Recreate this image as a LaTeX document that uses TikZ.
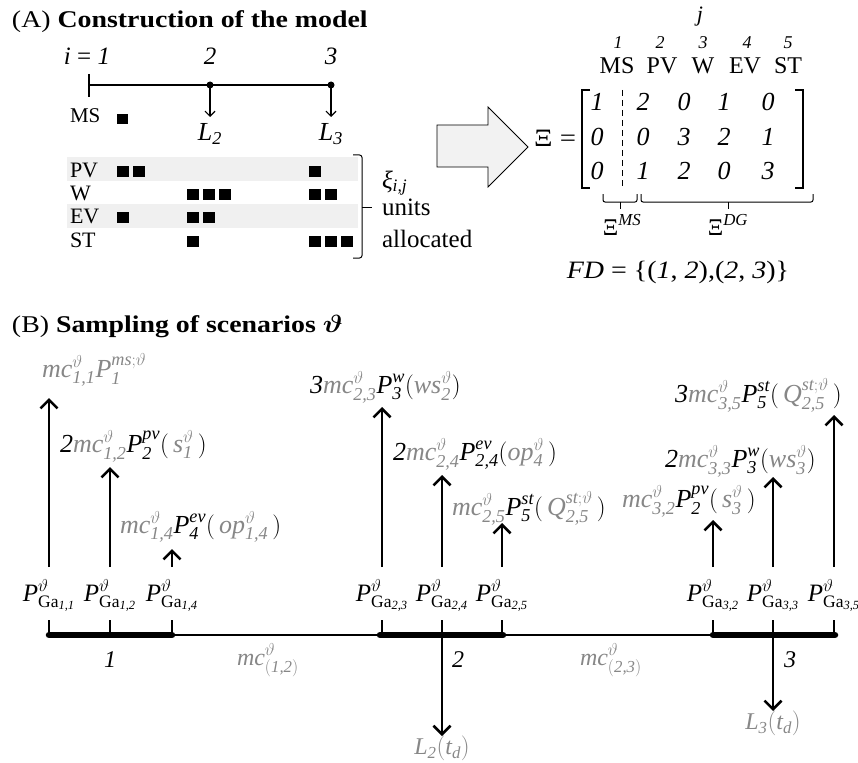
\documentclass[tikz,border=0pt]{standalone}
\usepackage{amsmath}
\usepackage{fontspec}
\setmainfont{Liberation Serif}
\usetikzlibrary{arrows.meta}
\definecolor{lg}{RGB}{135,135,135}
\definecolor{band}{RGB}{240,240,240}
\definecolor{arrfill}{RGB}{242,242,242}
\newcommand{\ti}[1]{\textit{#1}}
\newcommand{\gy}[1]{\textcolor{lg}{#1}}
\newcommand{\mcv}[1]{\gy{\ti{mc}^{\vartheta}_{\ti{#1}}}}
\newcommand{\pga}[1]{\ti{P}^{\vartheta}_{\mathrm{Ga}_{\ti{#1}}}}
\begin{document}
\begin{tikzpicture}[x=1pt,y=-1pt,
  every node/.style={inner sep=0pt,outer sep=0pt},
  tf/.style={font=\fontsize{22}{26}\selectfont},
  mf/.style={font=\fontsize{26}{30}\selectfont},
  gf/.style={font=\fontsize{25}{30}\selectfont},
  hf/.style={font=\fontsize{24}{28}\selectfont},
  thinarr/.style={line width=1.2pt,-{Straight Barb[length=5pt,width=10pt]}},
  bigarr/.style={line width=2.6pt,-{Straight Barb[length=8.5pt,width=17pt]}},
  tick/.style={line width=2.5pt}
]
\useasboundingbox (0,0) rectangle (858,762);

% ---------- (A) ----------
\node[hf,anchor=base west] (titleA) at (12,28) {\scalebox{1.16}[1]{(A) \textbf{Construction of the model}}};
\node[font=\fontsize{25}{30}\selectfont,anchor=base] (i1) at (87,65) {\ti{i} = \ti{1}};
\node[font=\fontsize{25}{30}\selectfont,anchor=base] (i2) at (210,65) {\ti{2}};
\node[font=\fontsize{25}{30}\selectfont,anchor=base] (i3) at (331,65) {\ti{3}};
\coordinate (n1) at (89,85);
\coordinate (n2) at (210,85);
\coordinate (n3) at (331,85);
\draw[line width=1.2pt] (n1) -- (n3);
\draw[line width=2.2pt] (89,74) -- (89,97);
\fill (n2) circle (3.5);
\fill (n3) circle (3.5);
\coordinate (l2t) at (210,117);
\coordinate (l3t) at (331,117);
\draw[thinarr] (n2) -- (l2t);
\draw[thinarr] (n3) -- (l3t);
\node[font=\fontsize{26}{30}\selectfont,anchor=base] (L2) at (210,141) {$\ti{L}_{\ti{2}}$};
\node[font=\fontsize{26}{30}\selectfont,anchor=base] (L3) at (331,141) {$\ti{L}_{\ti{3}}$};
\node[font=\fontsize{21}{25}\selectfont,anchor=base west] (ms) at (70,123) {MS};
\fill (117,124) rectangle ++(11,-10);

% bands
\fill[band] (67,157) rectangle (358,181);
\fill[band] (67,204) rectangle (358,228);
\node[tf,anchor=base west] (pv) at (70,177) {PV};
\node[tf,anchor=base west] (w) at (70,200) {W};
\node[tf,anchor=base west] (ev) at (70,223) {EV};
\node[tf,anchor=base west] (st) at (70,247) {ST};
\foreach \x/\y in {117/177,133/177,309/177,
                   187/200,203/200,219/200,309/200,325/200,
                   117/223,187/223,203/223,
                   187/247,309/247,325/247,341/247}
  \fill (\x,\y) rectangle ++(11.5,-11);
\draw[line width=1pt,rounded corners=2.5pt] (353,155) -- (362,155) -- (362,258) -- (353,258);
\draw[line width=1pt] (362,207) -- (372,207);
\node[font=\fontsize{25}{30}\selectfont,anchor=base west] (xi) at (382,188) {\ti{ξ}$_{\ti{i,j}}$};
\node[font=\fontsize{25}{30}\selectfont,anchor=base west] (units) at (382,215) {units};
\node[font=\fontsize{25}{30}\selectfont,anchor=base west] (alloc) at (382,247) {allocated};

% block arrow
\draw[fill=arrfill,line width=0.8pt] (437,125) -- (488,125) -- (488,107) -- (528,147)
  -- (488,187) -- (488,167) -- (437,167) -- cycle;

% matrix
\node[font=\fontsize{22}{26}\selectfont] (jj) at (700,17) {\ti{j}};
\foreach \x/\n in {618/1,660/2,703/3,747/4,788/5}
  \node[font=\fontsize{18}{21}\selectfont,anchor=base] at (\x,49) {\ti{\n}};
\foreach \x/\n in {617/MS,662/PV,703/W,745/EV,788/ST}
  \node[font=\fontsize{24}{28}\selectfont,anchor=base] at (\x,74) {\n};
\node[font=\fontsize{25}{29}\selectfont,anchor=base east] (Xi) at (576,147) {\scalebox{1.15}[1]{Ξ =}};
\draw[line width=1.2pt] (590,90) -- (582,90) -- (582,188) -- (590,188);
\draw[line width=1.2pt] (795,90) -- (803,90) -- (803,188) -- (795,188);
\draw[line width=1pt,dash pattern=on 6pt off 4pt] (622,90) -- (622,188);
\foreach \y/\a/\b/\c/\d/\e in {111/1/2/0/1/0, 146/0/0/3/2/1, 179/0/1/2/0/3}{
  \node[font=\fontsize{26}{30}\selectfont,anchor=base] at (597,\y) {\ti{\a}};
  \node[font=\fontsize{26}{30}\selectfont,anchor=base] at (643,\y) {\ti{\b}};
  \node[font=\fontsize{26}{30}\selectfont,anchor=base] at (684,\y) {\ti{\c}};
  \node[font=\fontsize{26}{30}\selectfont,anchor=base] at (724,\y) {\ti{\d}};
  \node[font=\fontsize{26}{30}\selectfont,anchor=base] at (768,\y) {\ti{\e}};
}
\draw[line width=1pt,rounded corners=2pt] (603,194) -- (603,202) -- (637,202) -- (637,194);
\draw[line width=1pt] (620,202) -- (620,209);
\draw[line width=1pt,rounded corners=2pt] (641,194) -- (641,202) -- (813,202) -- (813,194);
\draw[line width=1pt] (728,202) -- (728,209);
\node[font=\fontsize{24}{28}\selectfont,anchor=base] (xims) at (622,235) {Ξ$^{\ti{MS}}$};
\node[font=\fontsize{24}{28}\selectfont,anchor=base] (xidg) at (728,235) {Ξ$^{\ti{DG}}$};
\node[font=\fontsize{25}{29}\selectfont,anchor=base] (fd) at (678,278) {\scalebox{1.12}[1]{\ti{FD} = \{(\ti{1}, \ti{2}),(\ti{2}, \ti{3})\}}};

% ---------- (B) ----------
\node[hf,anchor=base west] (titleB) at (12,332) {\scalebox{1.16}[1]{(B) \textbf{Sampling of scenarios $\boldsymbol{\vartheta}$}}};

% bus
\coordinate (b0) at (49,635);
\coordinate (b1) at (834,635);
\draw[line width=1.5pt] (b0) -- (b1);
\draw[line width=6.5pt,line cap=round] (49,635) -- (172,635);
\draw[line width=6.5pt,line cap=round] (380,635) -- (503,635);
\draw[line width=6.5pt,line cap=round] (713,635) -- (835,635);

% generators
\foreach \x/\s/\t [count=\k] in {49/{1,1}/398, 110/{1,2}/467, 172/{1,4}/549,
                       382/{2,3}/407, 442/{2,4}/475, 502/{2,5}/523,
                       713/{3,2}/520, 773/{3,3}/477, 834/{3,5}/415}{
  \node[gf,anchor=base] (g\k) at (\x,601) {$\pga{\s}$};
  \draw[tick] (\x,620) -- (\x,635);
  \coordinate (top\k) at (\x,\t);
  \draw[bigarr] (\x,567) -- (top\k);
}

% power labels
\node[mf,anchor=base west] (p1) at (42,377) {$\gy{\ti{mc}^{\vartheta}_{\ti{1,1}}\ti{P}^{\ti{ms};\vartheta}_{\ti{1}}}$};
\node[mf,anchor=base west] (p2) at (60,452) {$\ti{2}\mcv{1,2}\ti{P}^{\ti{pv}}_{\ti{2}}(\,\gy{\ti{s}^{\vartheta}_{\ti{1}}}\,)$};
\node[mf,anchor=base west] (p3) at (120,533) {$\mcv{1,4}\ti{P}^{\ti{ev}}_{\ti{4}}(\,\gy{\ti{op}^{\vartheta}_{\ti{1,4}}}\,)$};
\node[mf,anchor=base west] (p4) at (310,393) {$\ti{3}\mcv{2,3}\ti{P}^{\ti{w}}_{\ti{3}}(\gy{\ti{ws}^{\vartheta}_{\ti{2}}})$};
\node[mf,anchor=base west] (p5) at (393,460) {$\ti{2}\mcv{2,4}\ti{P}^{\ti{ev}}_{\ti{2,4}}(\gy{\ti{op}^{\vartheta}_{\ti{4}}}\,)$};
\node[mf,anchor=base west] (p6) at (452,515) {$\mcv{2,5}\ti{P}^{\ti{st}}_{\ti{5}}(\,\gy{\ti{Q}^{\ti{st};\vartheta}_{\ti{2,5}}}\,)$};
\node[mf,anchor=base west] (p7) at (622,507) {$\mcv{3,2}\ti{P}^{\ti{pv}}_{\ti{2}}(\,\gy{\ti{s}^{\vartheta}_{\ti{3}}}\,)$};
\node[mf,anchor=base west] (p8) at (665,467) {$\ti{2}\mcv{3,3}\ti{P}^{\ti{w}}_{\ti{3}}(\gy{\ti{ws}^{\vartheta}_{\ti{3}}})$};
\node[mf,anchor=base west] (p9) at (675,402) {$\ti{3}\mcv{3,5}\ti{P}^{\ti{st}}_{\ti{5}}(\,\gy{\ti{Q}^{\ti{st};\vartheta}_{\ti{2,5}}}\,)$};

% bus labels
\node[font=\fontsize{24}{28}\selectfont,anchor=base] (a1) at (110,667) {\ti{1}};
\node[font=\fontsize{24}{28}\selectfont,anchor=base] (a2) at (458,667) {\ti{2}};
\node[font=\fontsize{24}{28}\selectfont,anchor=base] (a3) at (790,667) {\ti{3}};
\node[font=\fontsize{24}{28}\selectfont,anchor=base west] (m12) at (237,665) {$\gy{\ti{mc}^{\vartheta}_{(\ti{1,2})}}$};
\node[font=\fontsize{24}{28}\selectfont,anchor=base west] (m23) at (580,665) {$\gy{\ti{mc}^{\vartheta}_{(\ti{2,3})}}$};

% loads
\node[font=\fontsize{24}{28}\selectfont,anchor=north] (ld2) at (442,736) {\gy{$\ti{L}_{\ti{2}}(\ti{t}_{\ti{d}})$}};
\node[font=\fontsize{24}{28}\selectfont,anchor=north] (ld3) at (773,711) {\gy{$\ti{L}_{\ti{3}}(\ti{t}_{\ti{d}})$}};
\draw[bigarr] (442,635) -- (ld2.north);
\draw[bigarr] (773,635) -- (ld3.north);
\end{tikzpicture}
\end{document}
